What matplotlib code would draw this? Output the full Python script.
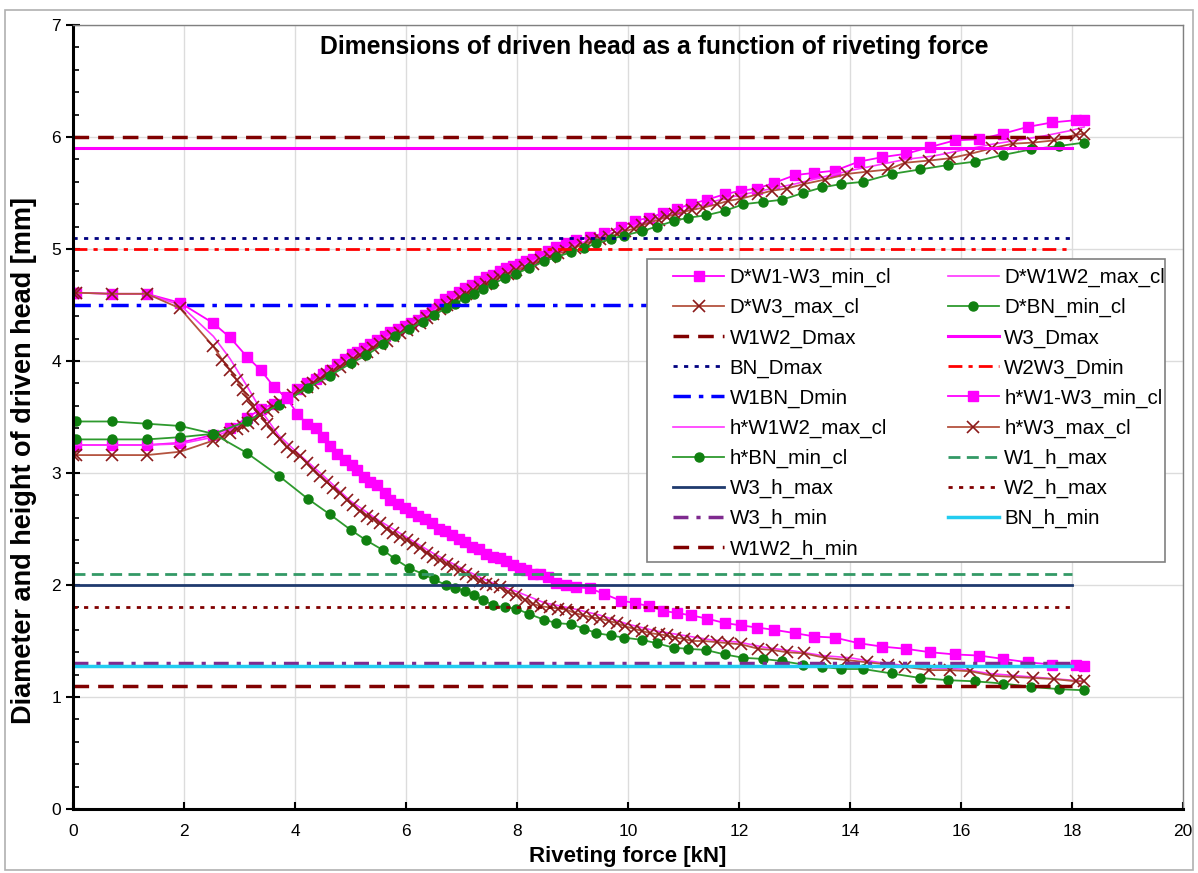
import matplotlib
matplotlib.use('Agg')
import matplotlib.pyplot as plt
from matplotlib.patches import Rectangle
from matplotlib.ticker import MultipleLocator

plt.rcParams['font.family'] = ['Liberation Sans', 'DejaVu Sans']

# W1-W3_min_cl (magenta squares)
x_a = [0, 0.05, 0.70, 1.33, 1.93, 2.52, 2.83, 3.13, 3.38, 3.62, 3.85, 4.04, 4.21, 4.38, 4.50, 4.63,
       4.76, 4.90, 5.03, 5.12, 5.24, 5.36, 5.47, 5.62, 5.72, 5.86, 5.98, 6.09, 6.22, 6.34, 6.47, 6.59,
       6.70, 6.83, 6.95, 7.07, 7.19, 7.31, 7.45, 7.57, 7.69, 7.81, 7.93, 8.05, 8.17, 8.29, 8.41, 8.56,
       8.71, 8.89, 9.07, 9.32, 9.57, 9.87, 10.12, 10.38, 10.63, 10.88, 11.13, 11.42, 11.75, 12.03,
       12.33, 12.63, 13.01, 13.36, 13.73, 14.16, 14.58, 15.01, 15.44, 15.89, 16.33, 16.76, 17.20,
       17.64, 18.07, 18.22]
d_a = [3.25, 3.25, 3.25, 3.25, 3.27, 3.34, 3.40, 3.49, 3.57, 3.62, 3.68, 3.75, 3.80, 3.84, 3.88, 3.92,
       3.97, 4.02, 4.06, 4.08, 4.12, 4.15, 4.19, 4.22, 4.26, 4.29, 4.31, 4.34, 4.37, 4.41, 4.46, 4.51,
       4.55, 4.58, 4.62, 4.65, 4.68, 4.71, 4.75, 4.77, 4.80, 4.83, 4.85, 4.87, 4.89, 4.91, 4.94, 4.98,
       5.02, 5.05, 5.08, 5.11, 5.14, 5.20, 5.25, 5.28, 5.32, 5.36, 5.40, 5.44, 5.49, 5.52,
       5.54, 5.59, 5.66, 5.68, 5.70, 5.78, 5.82, 5.85, 5.91, 5.97, 5.98, 6.03, 6.09,
       6.13, 6.15, 6.15]
h_a = [4.61, 4.61, 4.60, 4.60, 4.52, 4.34, 4.21, 4.04, 3.92, 3.77, 3.67, 3.53, 3.44, 3.40, 3.32, 3.24,
       3.17, 3.12, 3.07, 3.03, 2.96, 2.92, 2.89, 2.82, 2.76, 2.72, 2.69, 2.65, 2.62, 2.59, 2.55, 2.50,
       2.48, 2.45, 2.41, 2.38, 2.34, 2.32, 2.28, 2.25, 2.24, 2.21, 2.18, 2.15, 2.13, 2.10, 2.10, 2.07,
       2.02, 2.00, 1.98, 1.97, 1.92, 1.86, 1.84, 1.81, 1.77, 1.75, 1.73, 1.70, 1.66, 1.64,
       1.62, 1.60, 1.57, 1.54, 1.53, 1.48, 1.45, 1.43, 1.40, 1.38, 1.37, 1.34, 1.31,
       1.29, 1.29, 1.28]

# W1W2_max_cl (thin magenta line)
x_b = [0, 0.70, 1.33, 1.93, 2.53, 2.83, 3.13, 3.40, 3.70, 4.0, 4.5, 5.0, 5.5, 6.0, 6.5, 7.0, 7.5,
       8.0, 8.5, 9.0, 9.5, 10.0, 10.5, 11.0, 11.5, 12.0, 12.5, 13.0, 13.5, 14.0, 14.5, 15.0, 15.5,
       16.0, 16.5, 17.0, 17.5, 18.0, 18.22]
d_b = [3.25, 3.25, 3.25, 3.26, 3.32, 3.38, 3.46, 3.54, 3.63, 3.72, 3.88, 4.03, 4.17, 4.30, 4.45, 4.60,
       4.72, 4.83, 4.94, 5.03, 5.11, 5.19, 5.27, 5.34, 5.42, 5.48, 5.53, 5.58, 5.64, 5.70, 5.75, 5.80,
       5.83, 5.88, 5.93, 5.97, 6.01, 6.06, 6.09]
h_b = [4.61, 4.60, 4.60, 4.50, 4.22, 4.02, 3.78, 3.55, 3.34, 3.20, 2.98, 2.75, 2.58, 2.43, 2.28, 2.15,
       2.03, 1.94, 1.84, 1.79, 1.73, 1.65, 1.59, 1.55, 1.51, 1.49, 1.44, 1.41, 1.37, 1.35, 1.31, 1.28,
       1.26, 1.25, 1.21, 1.19, 1.17, 1.15, 1.14]

# W3_max_cl (brown crosses)
x_c = [0, 0.05, 0.70, 1.33, 1.93, 2.53, 2.69, 2.83, 2.95, 3.06, 3.16, 3.25, 3.37, 3.49, 3.61, 3.73,
       3.85, 3.97, 4.09, 4.21, 4.33, 4.45, 4.57, 4.69, 4.81, 4.93, 5.05, 5.17, 5.29, 5.41, 5.53, 5.65,
       5.77, 5.89, 6.01, 6.13, 6.25, 6.37, 6.49, 6.61, 6.73, 6.85, 6.97, 7.09, 7.21, 7.33, 7.45, 7.57,
       7.69, 7.84, 7.99, 8.14, 8.29, 8.44, 8.59, 8.74, 8.89, 9.04, 9.19, 9.35, 9.50, 9.65, 9.80, 9.95,
       10.10, 10.25, 10.40, 10.55, 10.70, 10.85, 11.00, 11.15, 11.36, 11.60, 11.81, 12.04, 12.35,
       12.59, 12.86, 13.17, 13.55, 13.94, 14.30, 14.69, 14.99, 15.43, 15.80, 16.17, 16.56, 16.93,
       17.30, 17.68, 18.07, 18.22]
d_c = [3.16, 3.16, 3.16, 3.16, 3.19, 3.29, 3.32, 3.36, 3.39, 3.42, 3.45, 3.48, 3.52, 3.55, 3.59, 3.63,
       3.66, 3.70, 3.73, 3.77, 3.80, 3.84, 3.88, 3.91, 3.95, 3.98, 4.02, 4.05, 4.08, 4.12, 4.15, 4.18,
       4.22, 4.25, 4.28, 4.31, 4.34, 4.38, 4.42, 4.46, 4.50, 4.53, 4.57, 4.60, 4.63, 4.66, 4.69, 4.72,
       4.75, 4.78, 4.81, 4.84, 4.87, 4.90, 4.93, 4.96, 4.98, 5.01, 5.04, 5.07, 5.09, 5.11, 5.13, 5.16,
       5.18, 5.21, 5.24, 5.26, 5.29, 5.31, 5.33, 5.35, 5.37, 5.40, 5.43, 5.45, 5.49,
       5.52, 5.54, 5.58, 5.62, 5.67, 5.69, 5.71, 5.77, 5.79, 5.81, 5.85, 5.90, 5.94,
       5.95, 5.97, 6.02, 6.03]
h_c = [4.61, 4.61, 4.60, 4.60, 4.47, 4.13, 4.01, 3.92, 3.83, 3.74, 3.66, 3.59, 3.52, 3.44, 3.37, 3.30,
       3.23, 3.19, 3.15, 3.09, 3.03, 2.97, 2.92, 2.87, 2.82, 2.76, 2.71, 2.66, 2.62, 2.59, 2.55, 2.50,
       2.46, 2.43, 2.40, 2.37, 2.33, 2.29, 2.25, 2.22, 2.19, 2.16, 2.13, 2.10, 2.07, 2.04, 2.01, 2.00,
       1.98, 1.94, 1.91, 1.87, 1.83, 1.81, 1.80, 1.79, 1.78, 1.75, 1.73, 1.71, 1.70, 1.68, 1.66, 1.63,
       1.61, 1.59, 1.57, 1.56, 1.55, 1.53, 1.52, 1.50, 1.50, 1.49, 1.48, 1.47, 1.43,
       1.42, 1.40, 1.39, 1.35, 1.33, 1.31, 1.29, 1.27, 1.24, 1.24, 1.23, 1.19, 1.18,
       1.17, 1.16, 1.14, 1.14]

# BN_min_cl (green dots)
x_d = [0, 0.05, 0.70, 1.33, 1.93, 2.53, 3.13, 3.72, 4.23, 4.63, 5.01, 5.28, 5.59, 5.81, 6.06, 6.30,
       6.50, 6.72, 6.88, 7.06, 7.22, 7.38, 7.57, 7.78, 7.98, 8.22, 8.49, 8.71, 8.97, 9.21, 9.43, 9.69,
       9.93, 10.25, 10.52, 10.82, 11.09, 11.40, 11.74, 12.08, 12.43, 12.78, 13.15, 13.50, 13.84,
       14.24, 14.75, 15.26, 15.77, 16.25, 16.76, 17.27, 17.77, 18.22]
d_d = [3.30, 3.30, 3.30, 3.30, 3.32, 3.35, 3.46, 3.61, 3.76, 3.87, 3.98, 4.05, 4.15, 4.22, 4.29, 4.35,
       4.41, 4.47, 4.51, 4.56, 4.60, 4.64, 4.69, 4.74, 4.78, 4.83, 4.89, 4.93, 4.97, 5.01, 5.05, 5.09,
       5.12, 5.16, 5.20, 5.25, 5.28, 5.30, 5.34, 5.40, 5.42, 5.44, 5.50, 5.55, 5.58,
       5.60, 5.67, 5.71, 5.75, 5.78, 5.84, 5.89, 5.92, 5.95]
h_d = [3.46, 3.46, 3.46, 3.44, 3.42, 3.35, 3.18, 2.97, 2.77, 2.63, 2.49, 2.40, 2.31, 2.23, 2.15, 2.10,
       2.05, 2.00, 1.97, 1.95, 1.91, 1.87, 1.82, 1.80, 1.79, 1.74, 1.69, 1.66, 1.65, 1.61, 1.57, 1.55,
       1.53, 1.51, 1.48, 1.44, 1.43, 1.42, 1.38, 1.35, 1.34, 1.32, 1.29, 1.27, 1.25,
       1.25, 1.21, 1.17, 1.15, 1.14, 1.12, 1.09, 1.07, 1.06]

# limit lines
limit_x = [0, 18]
limit_names = ['W1W2_Dmax', 'W3_Dmax', 'BN_Dmax', 'W2W3_Dmin', 'W1BN_Dmin',
               'W1_h_max', 'W3_h_max', 'W2_h_max', 'W3_h_min', 'BN_h_min', 'W1W2_h_min']
limit_vals = [6.0, 5.9, 5.1, 5.0, 4.5, 2.1, 2.0, 1.8, 1.3, 1.28, 1.1]

limit_style = {
    'W1W2_Dmax': dict(color='#800000', lw=2.5, ls=(0, (4.5, 2.6))),
    'W3_Dmax': dict(color='#FF00FF', lw=2.2, ls='-'),
    'BN_Dmax': dict(color='#000080', lw=2.0, ls=(0, (1.5, 2.3))),
    'W2W3_Dmin': dict(color='#FF0000', lw=2.0, ls=(0, (5, 2.2, 1.5, 2.2))),
    'W1BN_Dmin': dict(color='#0000FF', lw=2.5, ls=(0, (5, 2.3, 1.3, 2.3))),
    'W1_h_max': dict(color='#339966', lw=2.0, ls=(0, (4.3, 2.3))),
    'W3_h_max': dict(color='#1F3A6E', lw=2.0, ls='-'),
    'W2_h_max': dict(color='#800000', lw=2.0, ls=(0, (1.5, 2.3))),
    'W3_h_min': dict(color='#7F2A8F', lw=2.5, ls=(0, (4.3, 2.3, 1.2, 2.3))),
    'BN_h_min': dict(color='#22CCF0', lw=2.5, ls='-'),
    'W1W2_h_min': dict(color='#800000', lw=2.5, ls=(0, (4.5, 2.6))),
}

W, H = 1198, 873
fig = plt.figure(figsize=(W / 100, H / 100), dpi=100)
fig.patches.append(Rectangle((0.004, 0.004), 0.992, 0.984, transform=fig.transFigure,
                             fill=False, edgecolor='#b0b0b0', lw=1.2))
ax = fig.add_axes([73 / W, 1 - 809 / H, 1110 / W, 784 / H])

h = {}
sq = dict(color='#FF00FF', lw=1.3, marker='s', ms=7, mfc='#FF00FF', mec='#FF00FF')
cr = dict(color='#B4533F', lw=1.3, marker='x', ms=8, mew=1.2, mec='#8B1A1A')
gd = dict(color='#2E9A2E', lw=1.3, marker='o', ms=6.5, mfc='#108010', mec='#108010')
th = dict(color='#FF33FF', lw=1.2)

h['D*W1-W3_min_cl'], = ax.plot(x_a, d_a, **sq)
h['D*W1W2_max_cl'], = ax.plot(x_b, d_b, **th)
h['D*W3_max_cl'], = ax.plot(x_c, d_c, **cr)
h['D*BN_min_cl'], = ax.plot(x_d, d_d, **gd)
for name, val in zip(limit_names[:5], limit_vals[:5]):
    st = limit_style[name]
    h[name], = ax.plot(limit_x, [val, val], color=st['color'], lw=st['lw'], linestyle=st['ls'])
h['h*W1-W3_min_cl'], = ax.plot(x_a, h_a, **sq)
h['h*W1W2_max_cl'], = ax.plot(x_b, h_b, **th)
h['h*W3_max_cl'], = ax.plot(x_c, h_c, **cr)
h['h*BN_min_cl'], = ax.plot(x_d, h_d, **gd)
for name, val in zip(limit_names[5:], limit_vals[5:]):
    st = limit_style[name]
    h[name], = ax.plot(limit_x, [val, val], color=st['color'], lw=st['lw'], linestyle=st['ls'])

ax.set_xlim(0, 20)
ax.set_ylim(0, 7)
ax.xaxis.set_major_locator(MultipleLocator(2))
ax.yaxis.set_major_locator(MultipleLocator(1))
ax.yaxis.set_minor_locator(MultipleLocator(0.2))
ax.grid(True, which='major', color='#dcdcdc', lw=1)
ax.set_axisbelow(True)
ax.tick_params(axis='x', direction='in', length=5, width=1.5, labelsize=12.5, pad=11)
ax.tick_params(axis='y', which='major', direction='inout', length=10, width=1.5, labelsize=12.5)
ax.tick_params(axis='y', which='minor', direction='in', length=4, width=1.2)
for s in ['left', 'bottom']:
    ax.spines[s].set_linewidth(2.2)
    ax.spines[s].set_color('black')
for s in ['top', 'right']:
    ax.spines[s].set_linewidth(1)
    ax.spines[s].set_color('#808080')

ax.set_xlabel('Riveting force [kN]', fontsize=16, fontweight='bold', labelpad=5)
ax.set_ylabel('Diameter and height of driven head [mm]', fontsize=19.5, fontweight='bold')
ax.yaxis.set_label_coords(-0.032, 0.445)
fig.text(654 / W, 1 - 47 / H, 'Dimensions of driven head as a function of riveting force',
         ha='center', va='center', fontsize=17.8, fontweight='bold')

# legend frame drawn separately so the inner padding can match
ax.add_patch(Rectangle((647 / W, 1 - 562 / H), 518 / W, 303 / H, transform=fig.transFigure,
                       facecolor='white', edgecolor='#808080', lw=1.2, zorder=4.9))

order = ['D*W1-W3_min_cl', 'D*W1W2_max_cl', 'D*W3_max_cl', 'D*BN_min_cl', 'W1W2_Dmax', 'W3_Dmax',
         'BN_Dmax', 'W2W3_Dmin', 'W1BN_Dmin', 'h*W1-W3_min_cl', 'h*W1W2_max_cl', 'h*W3_max_cl',
         'h*BN_min_cl', 'W1_h_max', 'W3_h_max', 'W2_h_max', 'W3_h_min', 'BN_h_min', 'W1W2_h_min']
cols = order[0::2] + order[1::2]
leg = ax.legend([h[k] for k in cols], cols, ncol=2, loc='upper left',
                bbox_to_anchor=(673 / W, 1 - 268 / H), bbox_transform=fig.transFigure,
                borderaxespad=0, borderpad=0, fontsize=14.8, handlelength=2.5,
                handletextpad=0.25, labelspacing=0.53, columnspacing=2.75, frameon=False)

fig.savefig('out.png', dpi=100)
